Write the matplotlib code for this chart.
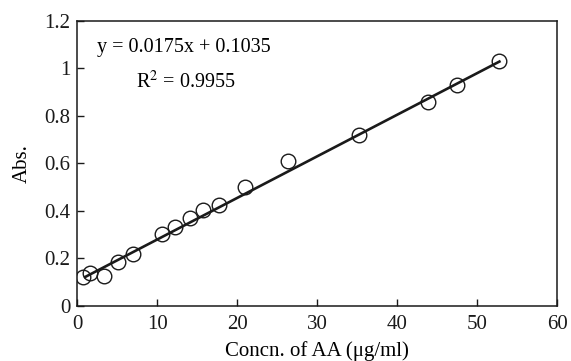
import matplotlib.pyplot as plt
import numpy as np

plt.rcParams['font.family'] = ['Liberation Serif', 'DejaVu Serif']
plt.rcParams['mathtext.fontset'] = 'stix'

# data
conc = [0.7, 1.6, 3.4, 5.1, 7.0, 10.6, 12.2, 14.1, 15.8, 17.7, 21.0, 26.4,
        35.2, 43.9, 47.5, 52.8]
absorb = [0.122, 0.136, 0.127, 0.183, 0.218, 0.300, 0.333, 0.368, 0.403,
          0.424, 0.501, 0.611, 0.717, 0.859, 0.929, 1.032]
slope = 0.0175
intercept = 0.1035
fit_x = [1.0, 52.8]

fig = plt.figure(figsize=(5.71, 3.61), dpi=100)
ax = fig.add_axes([0.135, 0.153, 0.8405, 0.790])

# fitted line
fx = np.array(fit_x)
ax.plot(fx, slope * fx + intercept, color='#1a1a1a', lw=1.9, zorder=2)

# measured points
ax.plot(conc, absorb, 'o', ms=10.5, mfc='none', mec='#1a1a1a', mew=1.0,
        zorder=3)

ax.text(2.5, 1.085, 'y = 0.0175x + 0.1035', fontsize=14.5, va='center')
ax.text(7.4, 0.94, r'R$^2$ = 0.9955', fontsize=14.5, va='center')

ax.set_xlim(0, 60)
ax.set_ylim(0, 1.2)
ax.set_xticks([0, 10, 20, 30, 40, 50, 60])
ax.set_yticks([0, 0.2, 0.4, 0.6, 0.8, 1.0, 1.2])
ax.set_yticklabels(['0', '0.2', '0.4', '0.6', '0.8', '1', '1.2'])
ax.tick_params(direction='in', length=5, width=1, labelsize=15, pad=5,
               colors='#1a1a1a')
ax.tick_params(axis='x', pad=7)
for s in ax.spines.values():
    s.set_linewidth(1.1)
    s.set_color('#1a1a1a')

ax.set_xlabel('Concn. of AA (μg/ml)', fontsize=15, labelpad=5)
ax.set_ylabel('Abs.', fontsize=15, labelpad=9)

fig.savefig('out.png', dpi=100)
